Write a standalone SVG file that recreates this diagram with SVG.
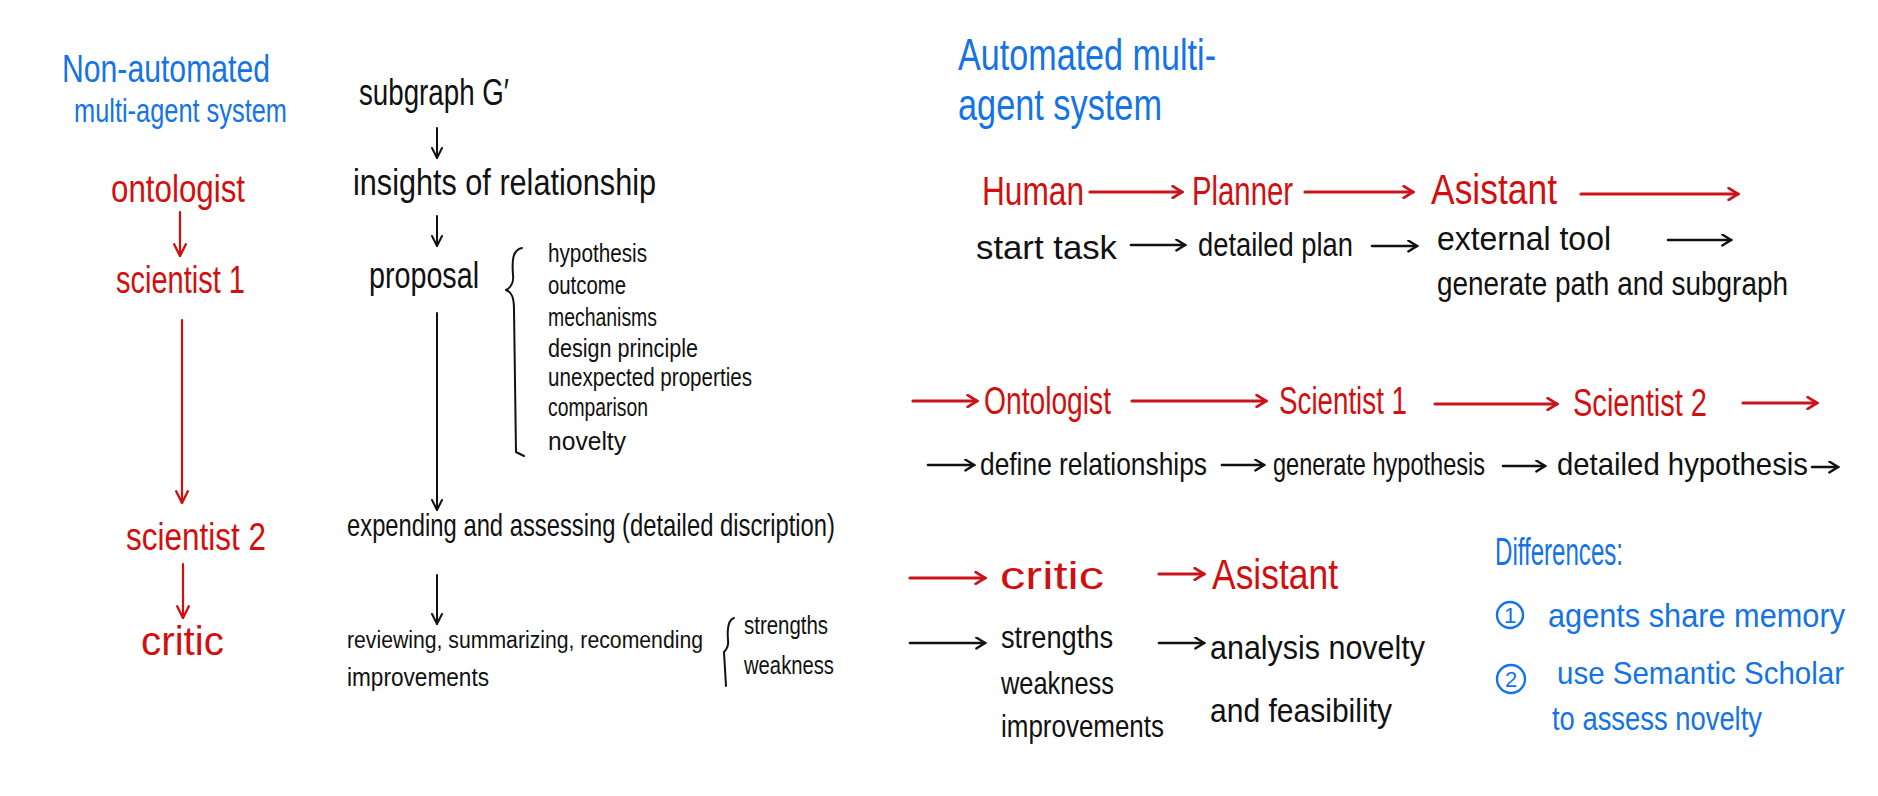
<svg xmlns="http://www.w3.org/2000/svg" width="1878" height="796" viewBox="0 0 1878 796">
<defs>
<style>
text{font-family:"Liberation Sans Narrow","Liberation Sans",sans-serif;}
.b{fill:#1473e6;}
.r{fill:#d10f0f;}
.k{fill:#111;}
.ln{fill:none;stroke-linecap:round;stroke-linejoin:round;}
.lk{stroke:#111;stroke-width:2;}
.lr{stroke:#d10f0f;stroke-width:2.2;}
.lr3{stroke:#c8141a;stroke-width:3.2;}
.lk3{stroke:#111;stroke-width:2.6;}
</style>
<marker id="ak" viewBox="0 0 12 12" refX="11" refY="6" markerWidth="12" markerHeight="12" markerUnits="userSpaceOnUse" orient="auto"><path d="M1,1 L11,6 L1,11" fill="none" stroke="#111" stroke-width="2" stroke-linecap="round"/></marker>
<marker id="ar" viewBox="0 0 12 12" refX="11" refY="6" markerWidth="14" markerHeight="14" markerUnits="userSpaceOnUse" orient="auto"><path d="M1,1 L11,6 L1,11" fill="none" stroke="#d10f0f" stroke-width="2" stroke-linecap="round"/></marker>
<marker id="ar3" viewBox="0 0 12 12" refX="10" refY="6" markerWidth="14" markerHeight="14" markerUnits="userSpaceOnUse" orient="auto"><path d="M2,1 L10,6 L2,11" fill="none" stroke="#c8141a" stroke-width="2.4" stroke-linecap="round"/></marker>
<marker id="ak3" viewBox="0 0 12 12" refX="10" refY="6" markerWidth="13" markerHeight="13" markerUnits="userSpaceOnUse" orient="auto"><path d="M2,1 L10,6 L2,11" fill="none" stroke="#111" stroke-width="2.2" stroke-linecap="round"/></marker>
</defs>
<rect width="1878" height="796" fill="#fff"/>

<!-- Left column -->
<g id="title-left">
<text class="b" x="62" y="82" font-size="38" textLength="208" lengthAdjust="spacingAndGlyphs">Non-automated</text>
<text class="b" x="74" y="122" font-size="34" textLength="213" lengthAdjust="spacingAndGlyphs">multi-agent system</text>
</g>
<g id="l-ontologist"><text class="r" x="111" y="202" font-size="38" textLength="134" lengthAdjust="spacingAndGlyphs">ontologist</text></g>
<g id="l-scientist1"><text class="r" x="116" y="293" font-size="38" textLength="129" lengthAdjust="spacingAndGlyphs">scientist 1</text></g>
<g id="l-scientist2"><text class="r" x="126" y="550" font-size="38" textLength="140" lengthAdjust="spacingAndGlyphs">scientist 2</text></g>
<g id="l-critic"><text class="r" x="141" y="655" font-size="40" textLength="83" lengthAdjust="spacingAndGlyphs">critic</text></g>

<!-- Middle column -->
<g id="m-subgraph"><text class="k" x="359" y="105" font-size="36" textLength="150" lengthAdjust="spacingAndGlyphs">subgraph G′</text></g>
<g id="m-insights"><text class="k" x="353" y="195" font-size="36" textLength="303" lengthAdjust="spacingAndGlyphs">insights of relationship</text></g>
<g id="m-proposal">
<text class="k" x="369" y="288" font-size="36" textLength="110" lengthAdjust="spacingAndGlyphs">proposal</text>
<path class="ln lk" d="M522,248 C512,250 512,262 513,275 C514,283 510,288 506,290 C512,292 514,298 514,310 L516,452 L524,456"/>
<text class="k" x="548" y="262" font-size="25" textLength="99" lengthAdjust="spacingAndGlyphs">hypothesis</text>
<text class="k" x="548" y="294" font-size="25" textLength="78" lengthAdjust="spacingAndGlyphs">outcome</text>
<text class="k" x="548" y="326" font-size="25" textLength="109" lengthAdjust="spacingAndGlyphs">mechanisms</text>
<text class="k" x="548" y="357" font-size="25" textLength="150" lengthAdjust="spacingAndGlyphs">design principle</text>
<text class="k" x="548" y="386" font-size="25" textLength="204" lengthAdjust="spacingAndGlyphs">unexpected properties</text>
<text class="k" x="548" y="416" font-size="25" textLength="100" lengthAdjust="spacingAndGlyphs">comparison</text>
<text class="k" x="548" y="450" font-size="25" textLength="78" lengthAdjust="spacingAndGlyphs">novelty</text>
</g>
<g id="m-expending"><text class="k" x="347" y="536" font-size="32" textLength="488" lengthAdjust="spacingAndGlyphs">expending and assessing (detailed discription)</text></g>
<g id="m-reviewing">
<text class="k" x="347" y="648" font-size="23" textLength="356" lengthAdjust="spacingAndGlyphs">reviewing, summarizing, recomending</text>
<text class="k" x="347" y="686" font-size="26" textLength="142" lengthAdjust="spacingAndGlyphs">improvements</text>
<path class="ln lk" d="M734,618 C728,620 727,628 728,640 C729,646 726,650 724,652 L726,686"/>
<text class="k" x="744" y="634" font-size="26" textLength="84" lengthAdjust="spacingAndGlyphs">strengths</text>
<text class="k" x="744" y="674" font-size="26" textLength="90" lengthAdjust="spacingAndGlyphs">weakness</text>
</g>

<!-- Right side -->
<g id="title-right">
<text class="b" x="958" y="70" font-size="44" textLength="258" lengthAdjust="spacingAndGlyphs">Automated multi-</text>
<text class="b" x="958" y="120" font-size="44" textLength="204" lengthAdjust="spacingAndGlyphs">agent system</text>
</g>
<g id="r-human"><text class="r" x="982" y="205" font-size="40" textLength="102" lengthAdjust="spacingAndGlyphs">Human</text></g>
<g id="r-planner"><text class="r" x="1192" y="205" font-size="40" textLength="101" lengthAdjust="spacingAndGlyphs">Planner</text></g>
<g id="r-asistant1"><text class="r" x="1431" y="204" font-size="42" textLength="126" lengthAdjust="spacingAndGlyphs">Asistant</text></g>
<g id="r-starttask"><text class="k" x="976" y="259" font-size="34" textLength="141" lengthAdjust="spacingAndGlyphs">start task</text></g>
<g id="r-detailedplan"><text class="k" x="1198" y="256" font-size="34" textLength="155" lengthAdjust="spacingAndGlyphs">detailed plan</text></g>
<g id="r-externaltool">
<text class="k" x="1437" y="250" font-size="34" textLength="174" lengthAdjust="spacingAndGlyphs">external tool</text>
<text class="k" x="1437" y="295" font-size="34" textLength="351" lengthAdjust="spacingAndGlyphs">generate path and subgraph</text>
</g>

<g id="r-ontologist"><text class="r" x="984" y="414" font-size="38" textLength="127" lengthAdjust="spacingAndGlyphs">Ontologist</text></g>
<g id="r-scientist1"><text class="r" x="1279" y="414" font-size="38" textLength="128" lengthAdjust="spacingAndGlyphs">Scientist 1</text></g>
<g id="r-scientist2"><text class="r" x="1573" y="416" font-size="38" textLength="134" lengthAdjust="spacingAndGlyphs">Scientist 2</text></g>
<g id="r-define"><text class="k" x="980" y="475" font-size="32" textLength="227" lengthAdjust="spacingAndGlyphs">define relationships</text></g>
<g id="r-generatehyp"><text class="k" x="1273" y="475" font-size="32" textLength="212" lengthAdjust="spacingAndGlyphs">generate hypothesis</text></g>
<g id="r-detailedhyp"><text class="k" x="1557" y="475" font-size="32" textLength="251" lengthAdjust="spacingAndGlyphs">detailed hypothesis</text></g>

<g id="r-critic"><text class="r" x="1000" y="589" font-size="38" textLength="104" lengthAdjust="spacingAndGlyphs">critic</text></g>
<g id="r-asistant2"><text class="r" x="1212" y="589" font-size="42" textLength="126" lengthAdjust="spacingAndGlyphs">Asistant</text></g>
<g id="r-critic-out">
<text class="k" x="1001" y="648" font-size="32" textLength="112" lengthAdjust="spacingAndGlyphs">strengths</text>
<text class="k" x="1001" y="694" font-size="32" textLength="113" lengthAdjust="spacingAndGlyphs">weakness</text>
<text class="k" x="1001" y="737" font-size="32" textLength="163" lengthAdjust="spacingAndGlyphs">improvements</text>
</g>
<g id="r-analysis">
<text class="k" x="1210" y="659" font-size="34" textLength="215" lengthAdjust="spacingAndGlyphs">analysis novelty</text>
<text class="k" x="1210" y="722" font-size="34" textLength="182" lengthAdjust="spacingAndGlyphs">and feasibility</text>
</g>

<g id="differences">
<text class="b" x="1495" y="565" font-size="38" textLength="128" lengthAdjust="spacingAndGlyphs">Differences:</text>
<circle cx="1510" cy="615" r="13" fill="none" stroke="#1473e6" stroke-width="2.4"/>
<text class="b" x="1510" y="623" font-size="22" text-anchor="middle">1</text>
<text class="b" x="1548" y="627" font-size="33" textLength="297" lengthAdjust="spacingAndGlyphs">agents share memory</text>
<circle cx="1511" cy="679" r="14" fill="none" stroke="#1473e6" stroke-width="2.4"/>
<text class="b" x="1511" y="687" font-size="22" text-anchor="middle">2</text>
<text class="b" x="1557" y="684" font-size="32" textLength="287" lengthAdjust="spacingAndGlyphs">use Semantic Scholar</text>
<text class="b" x="1552" y="730" font-size="34" textLength="210" lengthAdjust="spacingAndGlyphs">to assess novelty</text>
</g>

<g id="connectors">
<!-- left -->
<line class="ln lr" x1="180" y1="212" x2="180" y2="256" marker-end="url(#ar)"/>
<line class="ln lr" x1="182" y1="320" x2="182" y2="503" marker-end="url(#ar)"/>
<line class="ln lr" x1="183" y1="564" x2="183" y2="618" marker-end="url(#ar)"/>
<!-- middle -->
<line class="ln lk" x1="437" y1="128" x2="437" y2="158" marker-end="url(#ak)"/>
<line class="ln lk" x1="437" y1="216" x2="437" y2="246" marker-end="url(#ak)"/>
<line class="ln lk" x1="437" y1="313" x2="437" y2="510" marker-end="url(#ak)"/>
<line class="ln lk" x1="437" y1="575" x2="437" y2="624" marker-end="url(#ak)"/>
<!-- right row 1 -->
<line class="ln lr3" x1="1090" y1="192" x2="1182" y2="192" marker-end="url(#ar3)"/>
<line class="ln lr3" x1="1305" y1="192" x2="1413" y2="192" marker-end="url(#ar3)"/>
<line class="ln lr3" x1="1581" y1="194" x2="1738" y2="194" marker-end="url(#ar3)"/>
<line class="ln lk3" x1="1131" y1="245" x2="1185" y2="245" marker-end="url(#ak3)"/>
<line class="ln lk3" x1="1372" y1="246" x2="1417" y2="246" marker-end="url(#ak3)"/>
<line class="ln lk3" x1="1668" y1="240" x2="1731" y2="240" marker-end="url(#ak3)"/>
<!-- right row 2 -->
<line class="ln lr3" x1="913" y1="401" x2="977" y2="401" marker-end="url(#ar3)"/>
<line class="ln lr3" x1="1132" y1="401" x2="1266" y2="401" marker-end="url(#ar3)"/>
<line class="ln lr3" x1="1435" y1="404" x2="1557" y2="404" marker-end="url(#ar3)"/>
<line class="ln lr3" x1="1743" y1="403" x2="1817" y2="403" marker-end="url(#ar3)"/>
<line class="ln lk3" x1="928" y1="465" x2="974" y2="465" marker-end="url(#ak3)"/>
<line class="ln lk3" x1="1222" y1="465" x2="1264" y2="465" marker-end="url(#ak3)"/>
<line class="ln lk3" x1="1503" y1="466" x2="1545" y2="466" marker-end="url(#ak3)"/>
<line class="ln lk3" x1="1812" y1="467" x2="1838" y2="467" marker-end="url(#ak3)"/>
<!-- right row 3 -->
<line class="ln lr3" x1="910" y1="578" x2="985" y2="578" marker-end="url(#ar3)"/>
<line class="ln lr3" x1="1159" y1="574" x2="1204" y2="574" marker-end="url(#ar3)"/>
<line class="ln lk3" x1="910" y1="643" x2="985" y2="643" marker-end="url(#ak3)"/>
<line class="ln lk3" x1="1159" y1="643" x2="1204" y2="643" marker-end="url(#ak3)"/>
</g>
</svg>
